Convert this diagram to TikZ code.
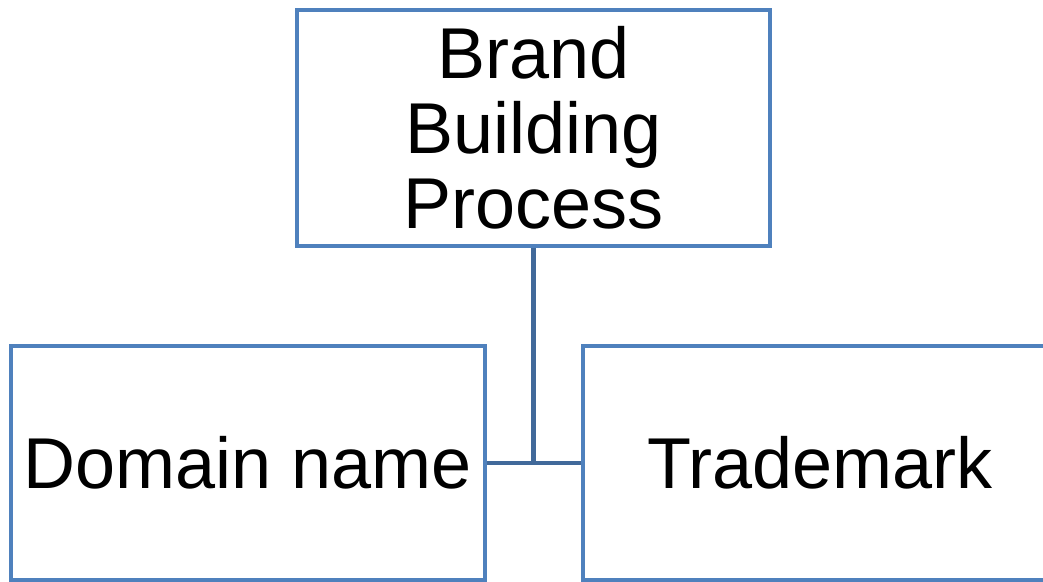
\documentclass[tikz,border=0pt]{standalone}
\usepackage{fontspec}
\setmainfont{Liberation Sans}
\usepackage{tikz}

\definecolor{boxblue}{HTML}{4F81BD}
\definecolor{linkblue}{HTML}{41699A}

\begin{document}
\begin{tikzpicture}[x=1pt, y=-1pt,
    brandbox/.style={draw=boxblue, line width=4.5pt, inner sep=0pt, align=center,
        font=\fontsize{72}{75}\selectfont},
    link/.style={draw=linkblue, line width=4.5pt}]
    % Page size (pixel units)
    \useasboundingbox (0, 0) rectangle (1043, 581);

    % The top box
    \node[brandbox, minimum width=473pt, minimum height=236pt] (brand) at (533.5, 128)
        {Brand\\Building\\Process};

    % The two lower boxes (cut off by the page edge)
    \node[brandbox, minimum width=474pt, minimum height=234pt] (domain) at (248, 463) {Domain name};
    \node[brandbox, minimum width=474pt, minimum height=234pt] (trademark) at (820, 463) {Trademark};

    % Connectors
    \draw[link] (brand.south) -- (brand.south |- domain.east);
    \draw[link] (domain.east) -- (trademark.west);
\end{tikzpicture}
\end{document}
